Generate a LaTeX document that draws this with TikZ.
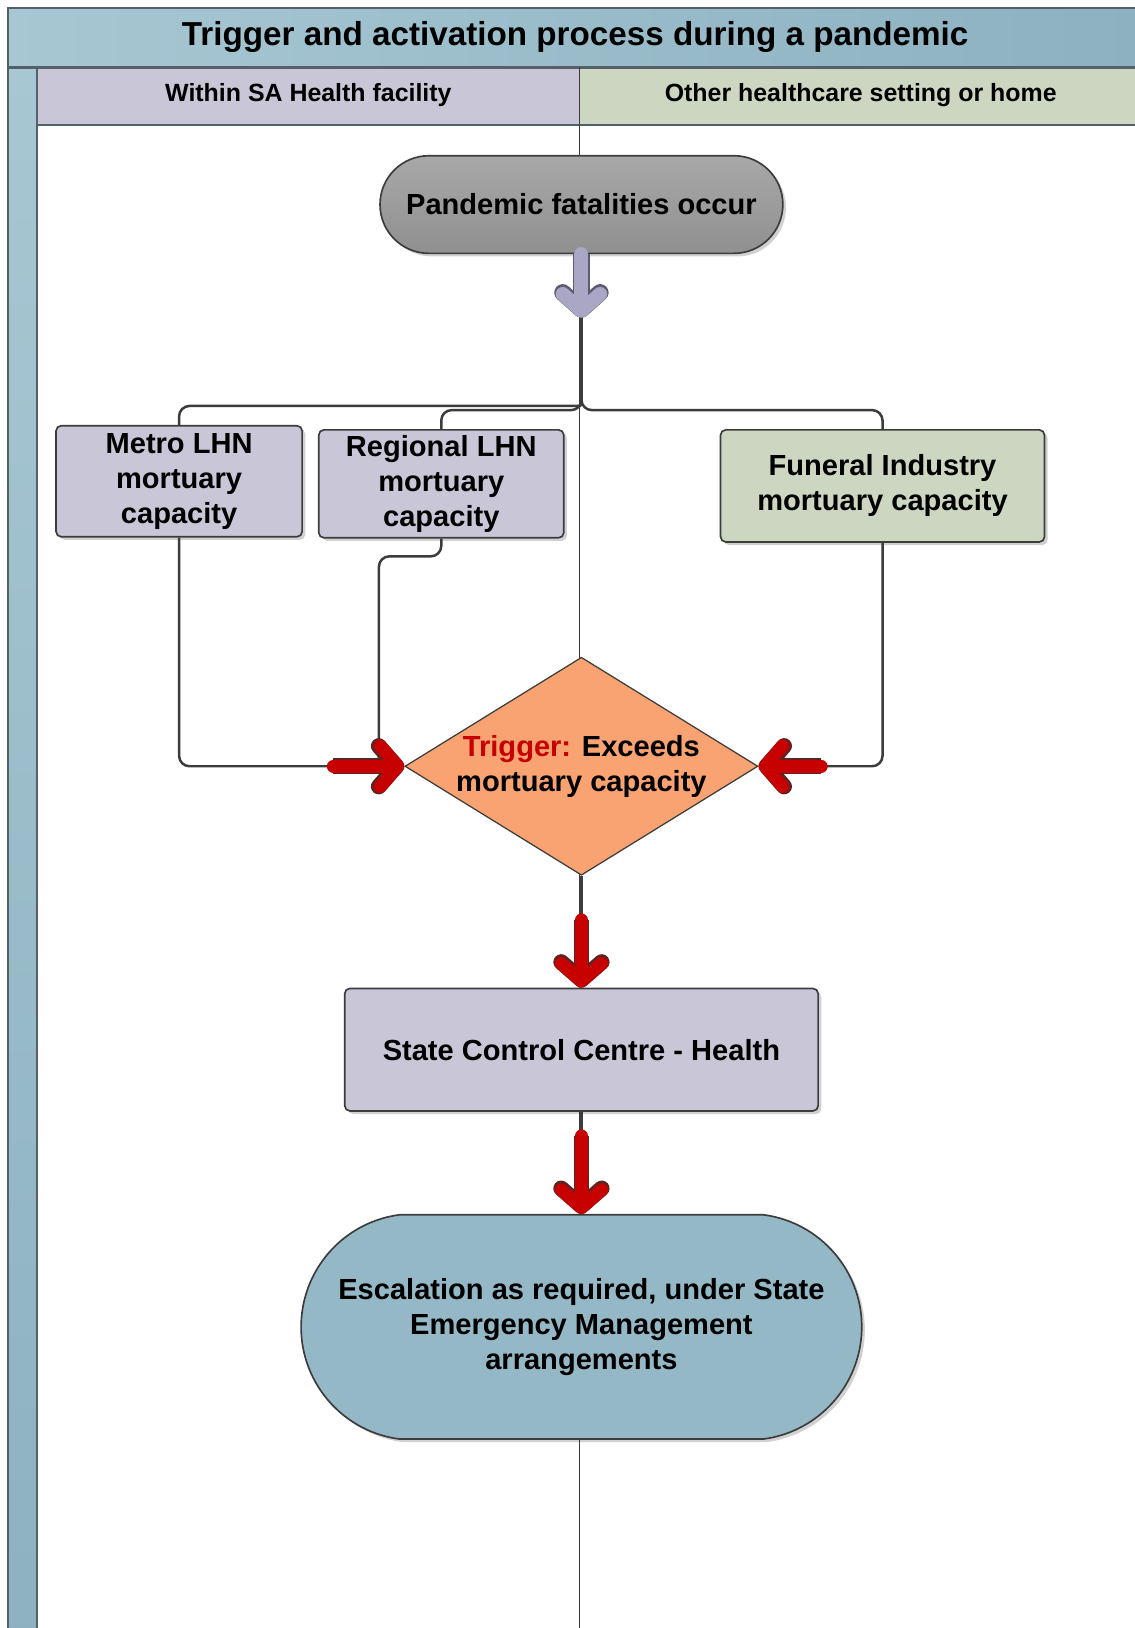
\documentclass[tikz,border=0pt]{standalone}
\usepackage{fontspec}
\setmainfont{Liberation Sans}
\usepackage{xcolor}
\usepackage{tikz}
\usetikzlibrary{shapes.misc, shapes.geometric, positioning, arrows.meta, shadows}

\definecolor{barlight}{HTML}{A7C7D2}
\definecolor{bardark}{HTML}{8DB1C1}
\definecolor{lilac}{HTML}{C9C7D7}
\definecolor{sage}{HTML}{CDD6C1}
\definecolor{pilllight}{HTML}{A8A8A8}
\definecolor{pilldark}{HTML}{909090}
\definecolor{apricot}{HTML}{F9A272}
\definecolor{steel}{HTML}{95B8C7}
\definecolor{flowline}{HTML}{3C3C3C}
\definecolor{frameedge}{HTML}{55616A}
\definecolor{alarm}{HTML}{C70000}
\definecolor{alarmedge}{HTML}{5C2424}
\definecolor{lilacfill}{HTML}{A9A6C6}
\definecolor{lilacedge}{HTML}{5E5C70}

\begin{document}
\begin{tikzpicture}[x=0.5pt, y=-0.5pt,
	every node/.style={font=\bfseries\fontsize{14}{16.8}\selectfont, align=center, inner sep=0pt},
	titletext/.style={font=\bfseries\fontsize{16}{19}\selectfont},
	lanetext/.style={font=\bfseries\fontsize{12}{14}\selectfont},
	frame/.style={draw=frameedge, line width=1pt},
	divider/.style={draw=flowline, line width=0.6pt},
	softshadow/.style={drop shadow={opacity=0.18, fill=black, shadow xshift=1.5pt, shadow yshift=-1.5pt}},
	box/.style={rectangle, rounded corners=2.5pt, draw=flowline, line width=0.8pt, fill=lilac, softshadow},
	pill/.style={rounded rectangle, rounded rectangle arc length=180, draw=flowline, line width=0.8pt, top color=pilllight, bottom color=pilldark, softshadow},
	endpill/.style={rounded rectangle, rounded rectangle arc length=165, draw=flowline, line width=0.8pt, fill=steel, softshadow},
	decision/.style={diamond, aspect=1.62, minimum width=170pt, minimum height=105pt, draw=flowline, line width=0.6pt, fill=apricot},
	flow/.style={draw=flowline, line width=1.2pt, rounded corners=5pt},
	alarmarrow/.style={draw=alarm, line width=6.2pt, line cap=round, -{Straight Barb[length=8.5pt, width=19.5pt, round]}, preaction={draw=alarmedge, line width=7.6pt}},
	lilacarrow/.style={draw=lilacfill, line width=6.8pt, line cap=round, -{Straight Barb[length=8pt, width=18pt, round]}, preaction={draw=lilacedge, line width=8.2pt}}
]
	\useasboundingbox (0,0) rectangle (1093,1568);
	\clip (0,0) rectangle (1093,1568);
	\fill[white] (0,0) rectangle (1093,1568);
	\fill[left color=barlight, right color=bardark] (8,8) rectangle (1100,65);
	\fill[top color=barlight, bottom color=bardark] (8,65) rectangle (36,1600);
	\fill[lilac] (36,65) rectangle (558,120);
	\fill[sage] (558,65) rectangle (1100,120);
	\draw[frame] (8,8) rectangle (1100,1600);
	\draw[frame] (8,65) -- (1100,65);
	\draw[frame] (36,65) -- (36,1600);
	\draw[frame] (36,120) -- (1100,120);
	\draw[divider] (558,65) -- (558,1600);
	\node[titletext] (title) at (554,36) {Trigger and activation process during a pandemic};
	\node[lanetext] (lanein) at (297,92) {Within SA Health facility};
	\node[lanetext] (laneout) at (829,92) {Other healthcare setting or home};

	\node[pill, minimum width=194pt, minimum height=47pt] (fatal) at (560,197) {Pandemic fatalities occur};
	\node[box, minimum width=118.5pt, minimum height=53.5pt] (metro) at (172.5,463.5) {Metro LHN\\mortuary\\capacity};
	\node[box, minimum width=118pt, minimum height=52pt] (regional) at (425,466) {Regional LHN\\mortuary\\capacity};
	\node[box, fill=sage, minimum width=156pt, minimum height=54pt] (funeral) at (850,468) {Funeral Industry\\mortuary capacity};
	\node[decision] (trigger) at (560,738) {\textcolor{alarm}{Trigger:} Exceeds\\mortuary capacity};
	\node[box, minimum width=228pt, minimum height=59pt] (scc) at (560,1011) {State Control Centre - Health};
	\node[endpill, minimum width=270pt, minimum height=108pt] (escalate) at (560,1278) {Escalation as required, under State\\Emergency Management\\arrangements};

	\coordinate (split) at (560,391);
	\coordinate (fatalhead) at (560,306);
	\coordinate (metroin) at (321,738);
	\coordinate (regturn) at (365,738);
	\coordinate (funeralin) at (791,738);
	\coordinate (sccin) at (560,886);
	\coordinate (escin) at (560,1094);

	\draw[flow] (fatal.south) -- (split);
	\draw[flow] (split) -| (metro.north);
	\draw[flow] (split) -- ++(0,4) -| (regional.north);
	\draw[flow] (split) -- ++(0,4) -| (funeral.north);
	\draw[flow] (metro.south) |- (metroin);
	\draw[flow] (regional.south) -- ++(0,17) -| (regturn);
	\draw[flow] (funeral.south) |- (funeralin);
	\draw[flow] (trigger.south) -- (sccin);
	\draw[flow] (scc.south) -- (escin);

	\draw[lilacarrow] (fatal.south) -- (fatalhead);
	\draw[alarmarrow] (metroin) -- (trigger.west);
	\draw[alarmarrow] (funeralin) -- (trigger.east);
	\draw[alarmarrow] (sccin) -- (scc.north);
	\draw[alarmarrow] (escin) -- (escalate.north);
\end{tikzpicture}
\end{document}
